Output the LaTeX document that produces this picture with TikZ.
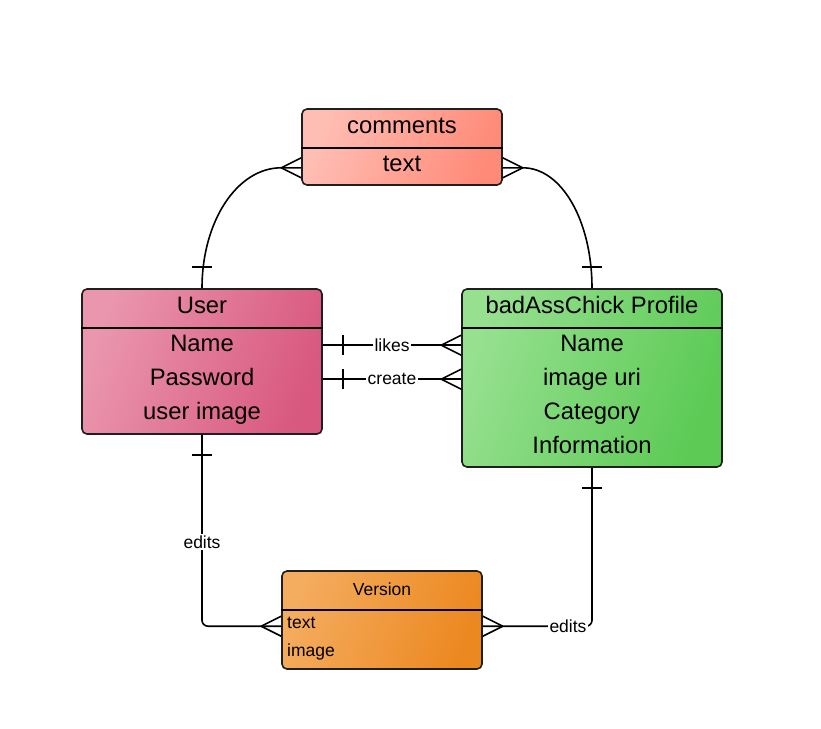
\documentclass[tikz,border=0pt]{standalone}
\usepackage{fontspec}
\setmainfont{Liberation Sans}
\usepackage{xcolor}
\usetikzlibrary{calc,positioning}

\definecolor{cmtA}{RGB}{255,190,180}
\definecolor{cmtB}{RGB}{255,138,120}
\definecolor{usrA}{RGB}{234,150,174}
\definecolor{usrB}{RGB}{216,88,128}
\definecolor{proA}{RGB}{150,224,144}
\definecolor{proB}{RGB}{92,202,84}
\definecolor{verA}{RGB}{244,172,94}
\definecolor{verB}{RGB}{236,136,32}

\begin{document}
\begin{tikzpicture}[x=1pt,y=-1pt,
	entity/.style={draw=black!88,line width=1.6pt,rounded corners=5pt,inner sep=0pt},
	tint/.style 2 args={top color=#1,bottom color=#2,shading angle=70},
	big/.style={anchor=base,inner sep=0pt,font=\fontsize{23.8}{28}\selectfont},
	small/.style={anchor=base,inner sep=0pt,font=\fontsize{17.5}{21}\selectfont},
	rel/.style={line width=1.6pt},
	lbl/.style={fill=white,inner sep=1.5pt,font=\fontsize{17.5}{21}\selectfont}]
	\useasboundingbox (0,0) rectangle (821,728);

	% boxes
	\node[entity,tint={cmtA}{cmtB},minimum width=200,minimum height=76] (comments) at (402,147) {};
	\node[entity,tint={usrA}{usrB},minimum width=240,minimum height=145] (user) at (202,361.5) {};
	\node[entity,tint={proA}{proB},minimum width=260,minimum height=178] (profile) at (592,378) {};
	\node[entity,tint={verA}{verB},minimum width=200,minimum height=98] (version) at (382,620) {};
	\draw[rel] ($(comments.north west)+(0,40)$) to ($(comments.north east)+(0,40)$);
	\draw[rel] ($(user.north west)+(0,40)$) to ($(user.north east)+(0,40)$);
	\draw[rel] ($(profile.north west)+(0,40)$) to ($(profile.north east)+(0,40)$);
	\draw[rel] ($(version.north west)+(0,40)$) to ($(version.north east)+(0,40)$);

	% texts
	\node[big] (cmtTitle) at (402,133) {comments};
	\node[big] (cmtText) at (402,171) {text};
	\node[big] (usrTitle) at (202,313) {User};
	\node[big] (usrName) at (202,351) {Name};
	\node[big] (usrPass) at (202,385) {Password};
	\node[big] (usrImg) at (202,419) {user image};
	\node[big] (proTitle) at (592,313) {badAssChick Profile};
	\node[big] (proName) at (592,351) {Name};
	\node[big] (proUri) at (592,385) {image uri};
	\node[big] (proCat) at (592,419) {Category};
	\node[big] (proInfo) at (592,453) {Information};
	\node[small] (verTitle) at (382,595) {Version};
	\node[small,anchor=base west] (verText) at (287,628) {text};
	\node[small,anchor=base west] (verImg) at (287,656) {image};

	% ends of the connectors
	\coordinate (cmtW) at ($(comments.south west)+(0,-18)$);
	\coordinate (cmtE) at ($(comments.south east)+(0,-18)$);
	\coordinate (likesU) at ($(user.north east)+(0,57)$);
	\coordinate (likesP) at (likesU -| profile.west);
	\coordinate (createU) at ($(user.north east)+(0,91)$);
	\coordinate (createP) at (createU -| profile.west);
	\coordinate (verW) at ($(version.north west)+(0,56)$);
	\coordinate (verE) at ($(version.north east)+(0,56)$);

	% comments -- user, comments -- profile
	\draw[rel] (cmtW) -- ++(-20,0) .. controls +(-44,0) and +(0,-67) .. (user.north);
	\draw[rel] ($(cmtW)+(-20,0)$) -- ($(cmtW)+(0,-10)$);
	\draw[rel] ($(cmtW)+(-20,0)$) -- ($(cmtW)+(0,10)$);
	\draw[rel] ($(user.north)+(-10,-21)$) -- ($(user.north)+(10,-21)$);
	\draw[rel] (cmtE) -- ++(20,0) .. controls +(39,0) and +(0,-67) .. (profile.north);
	\draw[rel] ($(cmtE)+(20,0)$) -- ($(cmtE)+(0,-10)$);
	\draw[rel] ($(cmtE)+(20,0)$) -- ($(cmtE)+(0,10)$);
	\draw[rel] ($(profile.north)+(-10,-21)$) -- ($(profile.north)+(10,-21)$);

	% likes, create
	\draw[rel] (likesU) -- node[lbl] (likesLbl) {likes} (likesP);
	\draw[rel] ($(likesU)+(20,-10)$) -- ($(likesU)+(20,10)$);
	\draw[rel] ($(likesP)+(-20,0)$) -- ($(likesP)+(0,-10)$);
	\draw[rel] ($(likesP)+(-20,0)$) -- ($(likesP)+(0,10)$);
	\draw[rel] (createU) -- node[lbl] (createLbl) {create} (createP);
	\draw[rel] ($(createU)+(20,-10)$) -- ($(createU)+(20,10)$);
	\draw[rel] ($(createP)+(-20,0)$) -- ($(createP)+(0,-10)$);
	\draw[rel] ($(createP)+(-20,0)$) -- ($(createP)+(0,10)$);

	% edits
	\draw[rel,rounded corners=6pt] (user.south) |- node[lbl,pos=.28] (editsU) {edits} (verW);
	\draw[rel] ($(user.south)+(-10,20)$) -- ($(user.south)+(10,20)$);
	\draw[rel] ($(verW)+(-20,0)$) -- ($(verW)+(0,-10)$);
	\draw[rel] ($(verW)+(-20,0)$) -- ($(verW)+(0,10)$);
	\draw[rel,rounded corners=6pt] (profile.south) |- node[lbl,pos=.61] (editsP) {edits} (verE);
	\draw[rel] ($(profile.south)+(-10,20)$) -- ($(profile.south)+(10,20)$);
	\draw[rel] ($(verE)+(20,0)$) -- ($(verE)+(0,-10)$);
	\draw[rel] ($(verE)+(20,0)$) -- ($(verE)+(0,10)$);
\end{tikzpicture}
\end{document}
